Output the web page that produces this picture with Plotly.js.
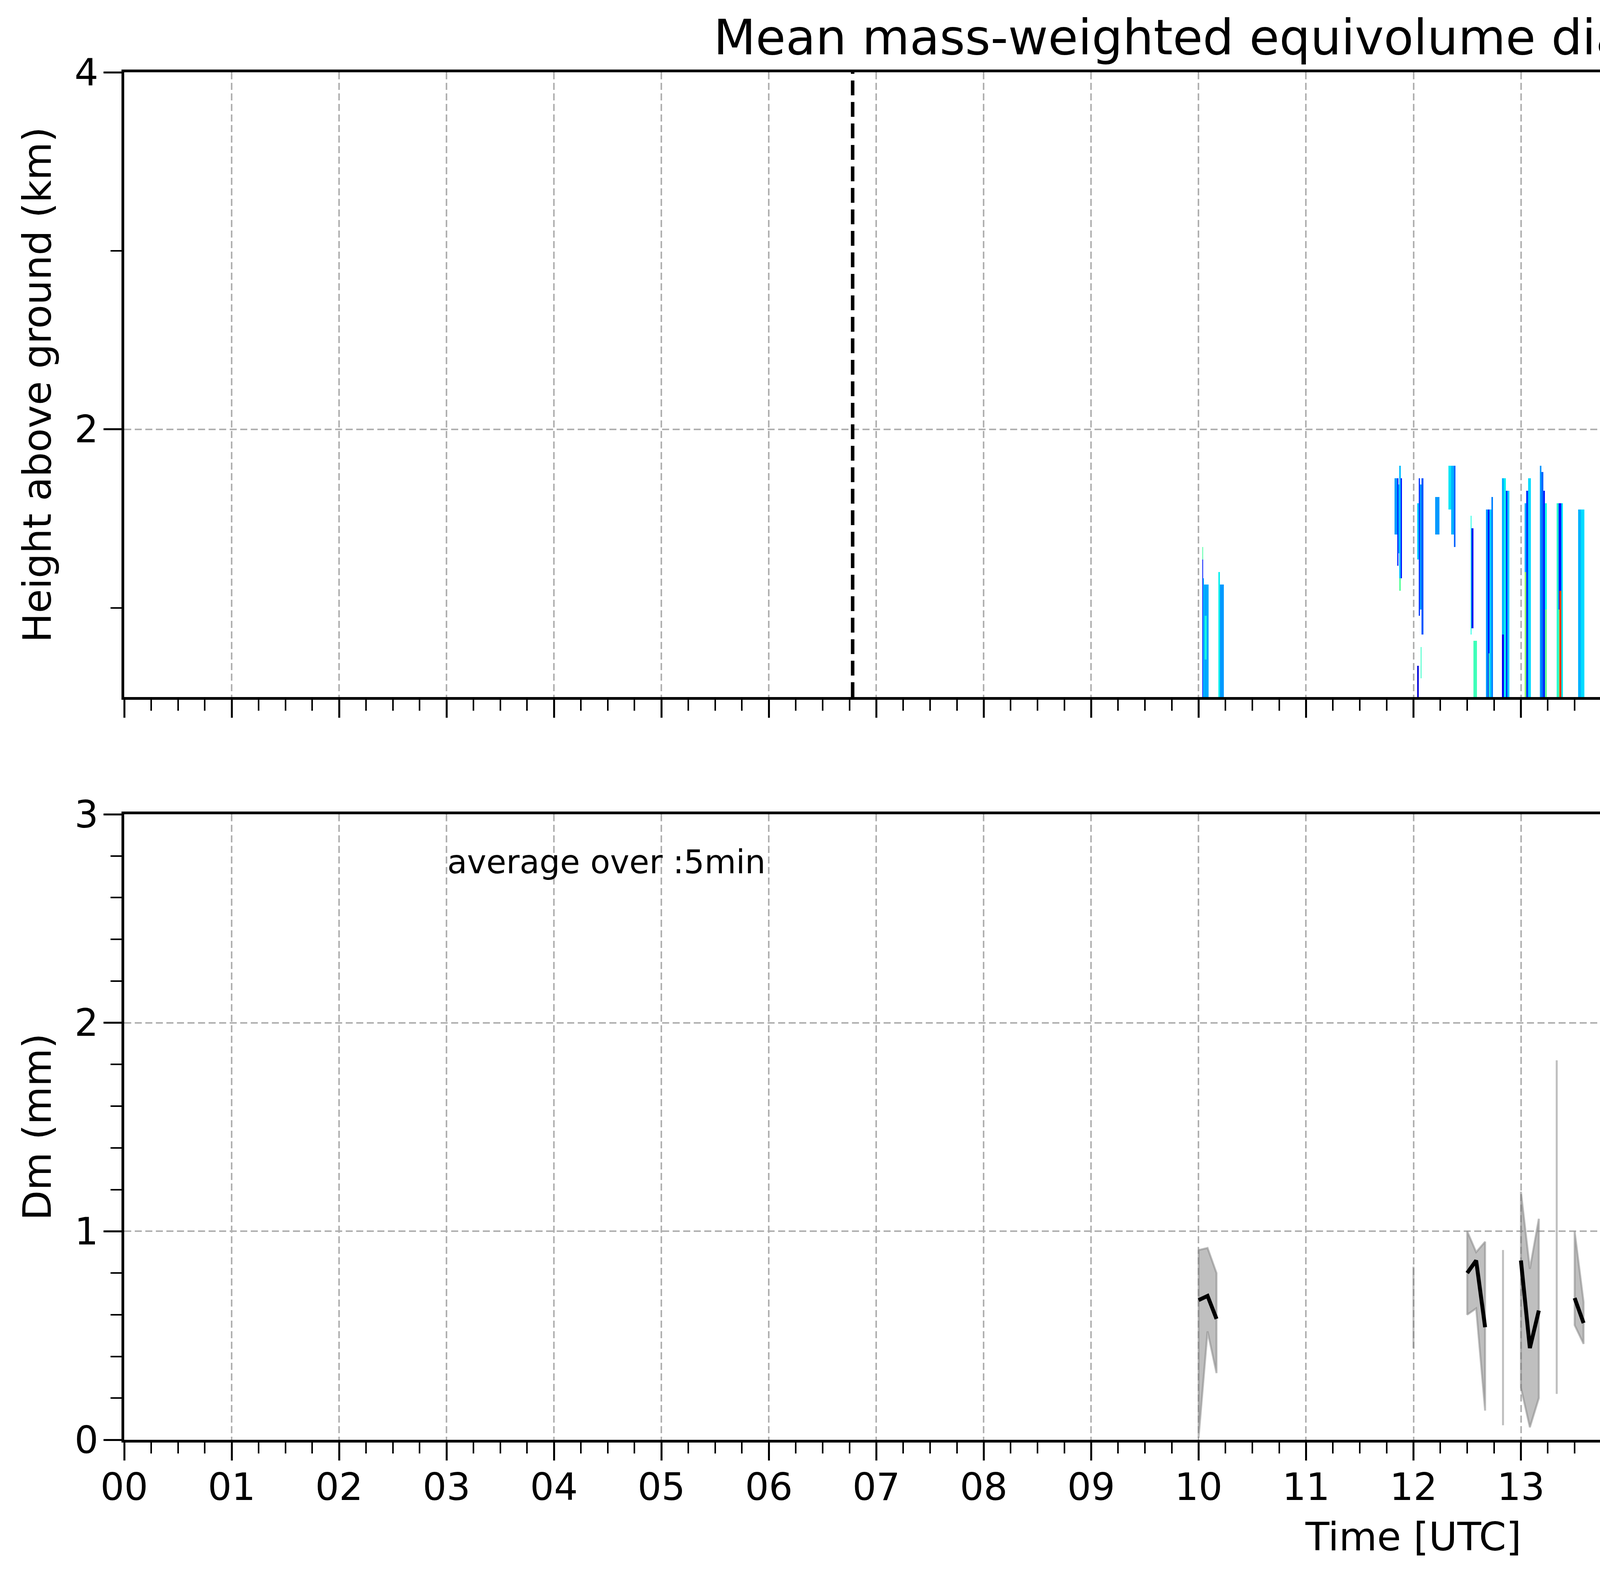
<!DOCTYPE html>
<html>
<head>
<meta charset="utf-8">
<script src="https://cdn.plot.ly/plotly-3.0.1.min.js"></script>
<style>
  html, body { margin: 0; padding: 0; background: #fff; }
  #chart { width: 7442px; height: 4031px; }
</style>
</head>
<body>
<div id="chart"></div>
<script>
// Dm strips seen in the profile panel: [start h, end h, base km, top km, Dm mm]
// rows further down paint over the ones above them
const cells10 = [
    [10.033, 10.042, 1.28, 1.35, 0.90],
    [10.033, 10.042, 0.50, 1.28, 0.30],
    [10.042, 10.050, 0.50, 1.17, 0.65],
    [10.050, 10.092, 0.50, 1.13, 0.58],
    [10.058, 10.075, 0.70, 0.95, 0.75],
    [10.183, 10.200, 0.50, 1.20, 0.72],
    [10.200, 10.233, 0.50, 1.12, 0.55]
];
const cells12 = [
    [11.829, 11.848, 1.42, 1.74, 0.55],
    [11.848, 11.858, 1.24, 1.71, 0.32],
    [11.858, 11.868, 1.30, 1.68, 0.60],
    [11.868, 11.880, 1.10, 1.78, 0.62],
    [11.880, 11.891, 1.15, 1.72, 0.28],
    [11.868, 11.880, 1.10, 1.17, 0.92],
    [12.031, 12.049, 1.28, 1.60, 0.65],
    [12.049, 12.061, 0.96, 1.71, 0.35],
    [12.061, 12.073, 1.00, 1.68, 0.55],
    [12.073, 12.092, 0.84, 1.74, 0.42],
    [12.036, 12.046, 0.50, 0.66, 0.15],
    [12.065, 12.073, 0.59, 0.77, 0.82],
    [12.196, 12.240, 1.42, 1.63, 0.55],
    [12.329, 12.348, 1.56, 1.78, 0.70],
    [12.348, 12.375, 1.42, 1.78, 0.60],
    [12.375, 12.390, 1.35, 1.81, 0.45]
];
const cells13 = [
    [12.534, 12.545, 0.84, 1.53, 0.75],
    [12.545, 12.556, 0.90, 1.45, 0.20],
    [12.556, 12.591, 0.50, 0.81, 0.85],
    [12.679, 12.695, 0.50, 1.56, 0.55],
    [12.695, 12.710, 0.50, 1.54, 0.30],
    [12.710, 12.726, 0.50, 1.56, 0.65],
    [12.726, 12.742, 0.50, 1.63, 0.50],
    [12.700, 12.712, 0.50, 0.75, 0.88],
    [12.829, 12.845, 0.50, 1.74, 0.60],
    [12.845, 12.860, 0.50, 1.71, 0.72],
    [12.860, 12.875, 0.50, 1.67, 0.35],
    [12.875, 12.891, 0.50, 1.67, 0.65],
    [12.829, 12.845, 0.50, 0.85, 0.20],
    [13.034, 13.049, 0.50, 1.60, 0.60],
    [13.034, 13.049, 0.50, 1.20, 1.05],
    [13.049, 13.070, 0.50, 1.64, 0.35],
    [13.070, 13.091, 0.50, 1.71, 0.68],
    [13.179, 13.195, 0.50, 1.78, 0.55],
    [13.195, 13.210, 0.50, 1.76, 0.45],
    [13.210, 13.225, 0.50, 1.65, 0.30],
    [13.225, 13.240, 0.50, 1.60, 0.75],
    [13.225, 13.240, 0.50, 1.00, 0.95],
    [13.332, 13.350, 0.50, 1.60, 0.80],
    [13.350, 13.375, 0.50, 1.60, 0.30],
    [13.350, 13.362, 0.50, 1.00, 0.95],
    [13.362, 13.372, 0.50, 1.10, 1.70],
    [13.375, 13.391, 0.50, 1.60, 0.70],
    [13.532, 13.555, 0.50, 1.56, 0.60],
    [13.555, 13.588, 0.50, 1.56, 0.68]
];
const cells14 = [
    [13.829, 13.845, 0.50, 1.70, 0.55],
    [13.845, 13.860, 0.50, 1.74, 0.30],
    [13.860, 13.892, 0.50, 1.74, 0.62],
    [14.031, 14.045, 1.45, 1.53, 0.70],
    [14.031, 14.045, 0.50, 1.38, 0.35],
    [14.045, 14.060, 0.95, 1.20, 0.65],
    [14.181, 14.190, 0.50, 1.38, 0.55],
    [14.181, 14.190, 0.73, 0.84, 1.70],
    [14.181, 14.190, 0.50, 0.60, 1.20],
    [14.233, 14.242, 1.10, 1.17, 0.45],
    [14.329, 14.348, 0.50, 1.16, 0.20],
    [14.531, 14.545, 0.50, 1.56, 0.70],
    [14.545, 14.560, 0.50, 1.52, 0.35],
    [14.560, 14.575, 0.50, 1.56, 0.15],
    [14.575, 14.589, 0.50, 1.56, 0.60],
    [14.675, 14.684, 1.35, 1.56, 0.70],
    [14.725, 14.734, 1.24, 1.56, 0.60],
    [14.734, 14.743, 1.45, 1.56, 0.90],
    [14.833, 14.850, 0.88, 1.56, 0.80],
    [14.850, 14.867, 0.95, 1.56, 0.50],
    [14.867, 14.883, 0.90, 1.50, 0.30],
    [14.833, 14.891, 0.50, 0.81, 0.60],
    [14.858, 14.867, 0.50, 0.81, 0.20]
];
const cells15 = [
    [15.182, 15.200, 0.91, 1.60, 0.45],
    [15.200, 15.217, 1.05, 1.60, 0.30],
    [15.217, 15.234, 1.30, 1.60, 0.60],
    [15.182, 15.192, 1.50, 1.60, 0.95],
    [15.363, 15.380, 1.16, 1.60, 0.75],
    [15.532, 15.545, 0.50, 1.60, 0.55],
    [15.545, 15.560, 0.50, 1.60, 0.30],
    [15.560, 15.586, 0.50, 1.55, 0.60],
    [15.532, 15.545, 0.50, 0.80, 0.80],
    [15.686, 15.700, 0.88, 1.60, 0.40],
    [15.700, 15.715, 1.00, 1.60, 0.25],
    [15.715, 15.744, 1.30, 1.60, 0.35],
    [15.836, 15.855, 0.88, 1.60, 0.60],
    [16.071, 16.090, 0.50, 1.27, 0.55],
    [16.179, 16.195, 0.50, 1.53, 0.40],
    [16.195, 16.215, 0.50, 1.53, 0.65],
    [16.215, 16.244, 0.50, 1.53, 0.70],
    [16.195, 16.244, 0.50, 1.00, 0.95],
    [16.329, 16.345, 0.50, 1.53, 0.45],
    [16.345, 16.365, 0.50, 1.53, 0.30],
    [16.365, 16.390, 0.50, 1.53, 0.68],
    [16.329, 16.345, 0.50, 0.95, 0.85],
    [17.692, 17.700, 1.17, 1.40, 0.45],
    [17.700, 17.717, 1.33, 1.40, 0.60],
    [17.717, 17.733, 1.35, 1.45, 0.70],
    [17.825, 17.842, 1.40, 1.46, 0.65]
];
const cells21 = [
    [20.208, 20.225, 0.99, 1.38, 0.50],
    [20.208, 20.225, 0.50, 0.99, 1.05],
    [20.225, 20.239, 0.50, 1.38, 0.65],
    [20.527, 20.542, 1.02, 1.20, 0.40],
    [20.527, 20.536, 1.02, 1.06, 0.10],
    [20.525, 20.534, 0.50, 0.73, 0.90],
    [20.680, 20.700, 0.50, 1.42, 0.55],
    [20.700, 20.720, 0.50, 1.42, 0.20],
    [20.720, 20.744, 0.50, 1.49, 0.65],
    [20.680, 20.720, 0.50, 0.95, 0.95],
    [20.825, 20.835, 1.24, 1.63, 0.70],
    [20.858, 20.875, 1.24, 1.63, 0.45],
    [20.875, 20.890, 1.35, 1.63, 0.55],
    [21.032, 21.045, 0.91, 1.63, 0.50],
    [21.045, 21.060, 1.00, 1.50, 0.30],
    [21.060, 21.075, 1.05, 1.45, 0.70],
    [21.080, 21.089, 1.35, 1.63, 0.75],
    [21.178, 21.195, 0.50, 1.30, 0.15],
    [21.195, 21.215, 0.50, 1.49, 0.35],
    [21.215, 21.242, 0.50, 1.60, 0.55],
    [21.325, 21.334, 1.17, 1.60, 0.65],
    [21.535, 21.550, 0.50, 1.38, 0.75],
    [21.550, 21.570, 0.50, 1.40, 0.40],
    [21.570, 21.586, 0.50, 1.42, 0.65],
    [21.535, 21.550, 0.50, 0.85, 0.95],
    [21.680, 21.700, 0.50, 1.45, 0.60],
    [21.700, 21.720, 0.50, 1.45, 0.15],
    [21.680, 21.720, 0.50, 0.99, 1.15],
    [21.690, 21.705, 0.50, 0.75, 1.30],
    [21.720, 21.739, 0.50, 1.45, 0.70],
    [21.836, 21.850, 0.50, 1.38, 0.60],
    [21.850, 21.870, 0.50, 1.38, 0.30],
    [21.870, 21.887, 0.50, 1.45, 0.70],
    [21.836, 21.845, 0.50, 0.90, 1.10],
    [21.845, 21.870, 0.50, 0.92, 1.55]
];
const cells23 = [
    [22.568, 22.585, 0.50, 1.53, 0.55],
    [22.683, 22.700, 0.50, 1.45, 0.75],
    [22.700, 22.720, 0.50, 1.53, 0.35],
    [22.720, 22.747, 0.50, 1.60, 0.70],
    [22.683, 22.710, 0.50, 0.81, 1.00],
    [22.831, 22.842, 0.50, 1.99, 0.65],
    [22.842, 22.870, 0.50, 1.49, 0.55],
    [22.842, 22.855, 1.49, 1.78, 0.75],
    [22.870, 22.895, 0.50, 1.49, 0.62],
    [23.027, 23.045, 0.50, 1.31, 0.80],
    [23.045, 23.060, 0.50, 1.31, 0.50],
    [23.060, 23.091, 0.50, 1.24, 0.75],
    [23.027, 23.060, 0.50, 0.95, 1.45],
    [23.035, 23.050, 0.50, 0.85, 1.60],
    [23.180, 23.200, 0.50, 1.35, 0.45],
    [23.200, 23.220, 0.50, 1.35, 0.25],
    [23.220, 23.244, 0.50, 1.35, 0.65],
    [23.333, 23.350, 0.50, 1.27, 0.30],
    [23.350, 23.365, 0.50, 1.27, 0.55],
    [23.365, 23.392, 0.50, 1.24, 0.75],
    [23.333, 23.392, 0.50, 0.85, 0.95],
    [23.538, 23.555, 0.50, 1.27, 0.85],
    [23.555, 23.570, 0.50, 1.31, 0.35],
    [23.570, 23.588, 0.50, 1.24, 0.70],
    [23.678, 23.700, 0.50, 1.38, 0.75],
    [23.700, 23.720, 0.50, 1.38, 0.30],
    [23.720, 23.742, 0.50, 1.38, 0.80],
    [23.678, 23.742, 0.50, 1.00, 1.05],
    [23.826, 23.845, 0.50, 1.31, 0.85],
    [23.845, 23.865, 0.50, 1.31, 0.75],
    [23.865, 23.882, 0.50, 1.31, 0.35],
    [23.826, 23.845, 0.50, 0.82, 1.45]
];

// 5-min mean Dm at ground with its spread (mm), time in hours
const dmTime = [10.0000, 10.0833, 10.1667, 12.0000, 12.5000, 12.5833, 12.6667, 12.8333,
    13.0000, 13.0833, 13.1667, 13.3333, 13.5000, 13.5833, 13.8333, 14.0000, 14.1667,
    14.3333, 14.5000, 14.5833, 14.8333, 15.5000, 15.5833, 16.0833, 16.1667, 16.3333,
    20.1667, 20.6667, 21.1667, 21.5000, 21.5833, 21.6667, 21.8333, 22.5833, 22.6667,
    22.8333, 23.0000, 23.0833, 23.1667, 23.3333, 23.5000, 23.5833, 23.6667, 23.8333];
const dmMean = [0.67, 0.69, 0.58, 0.64, 0.80, 0.86, 0.54, 0.50,
    0.86, 0.44, 0.62, 0.90, 0.68, 0.56, 0.62, 0.57, 1.18,
    0.62, 0.53, 0.61, 0.56, 0.55, 0.60, 0.54, 0.85, 0.66,
    1.08, 0.64, 0.53, 0.75, 0.68, 1.13, 1.28, 0.36, 0.74,
    0.55, 1.43, 1.04, 0.75, 0.88, 0.90, 0.96, 0.92, 1.11];
const dmLow = [0.01, 0.52, 0.32, 0.44, 0.60, 0.63, 0.14, 0.07,
    0.25, 0.06, 0.20, 0.22, 0.55, 0.46, 0.39, 0.25, 0.97,
    0.25, 0.14, 0.36, 0.29, 0.07, 0.05, 0.36, 0.23, 0.22,
    0.80, 0.24, 0.25, 0.17, 0.25, 0.08, 0.66, 0.09, 0.15,
    0.22, 0.94, 0.86, 0.19, 0.37, 0.33, 0.46, 0.62, 0.52];
const dmHigh = [0.91, 0.92, 0.80, 0.83, 1.00, 0.90, 0.95, 0.91,
    1.19, 0.82, 1.06, 1.82, 1.00, 0.66, 0.91, 0.89, 1.38,
    0.99, 0.84, 0.86, 0.83, 0.91, 0.91, 0.77, 1.11, 1.11,
    1.35, 1.05, 0.81, 1.15, 0.85, 1.33, 1.91, 0.71, 1.80,
    0.89, 1.69, 1.16, 1.25, 1.40, 1.08, 0.98, 1.39, 1.71];

const hourTicks = [0, 1, 2, 3, 4, 5, 6, 7, 8, 9, 10, 11, 12, 13, 14, 15, 16, 17, 18, 19, 20, 21, 22, 23];
const hourLabels = ['00', '01', '02', '03', '04', '05', '06', '07', '08', '09', '10', '11',
    '12', '13', '14', '15', '16', '17', '18', '19', '20', '21', '22', '23'];
const sunLines = [6.78, 15.334];   // black dashed markers in the profile panel
const noDataFrom = 23.885;         // grey band at the end of the day

// matplotlib "jet"
const jet = [
    [0.000, 'rgb(0,0,128)'], [0.110, 'rgb(0,0,255)'], [0.125, 'rgb(0,0,255)'],
    [0.340, 'rgb(0,219,255)'], [0.350, 'rgb(0,230,247)'], [0.375, 'rgb(21,255,226)'],
    [0.640, 'rgb(239,255,8)'], [0.650, 'rgb(247,245,0)'], [0.660, 'rgb(255,236,0)'],
    [0.890, 'rgb(255,19,0)'], [0.910, 'rgb(232,0,0)'], [1.000, 'rgb(128,0,0)']
];

// build the time/height grid (30 s x 35 m)
const colsPerHour = 120, nCol = 24 * colsPerHour;
const gateBase = 0.5, gate = 0.035, nRow = 45;
const gridX = Array.from({ length: nCol }, (_, j) => (j + 0.5) / colsPerHour);
const gridY = Array.from({ length: nRow }, (_, k) => gateBase + (k + 0.5) * gate);
const gridZ = gridY.map(() => new Array(nCol).fill(null));
[].concat(cells10, cells12, cells13, cells14, cells15, cells21, cells23).forEach(c => {
    const j0 = Math.round(c[0] * colsPerHour);
    const j1 = Math.max(j0 + 1, Math.round(c[1] * colsPerHour));
    const k0 = Math.round((c[2] - gateBase) / gate);
    const k1 = Math.max(k0 + 1, Math.round((c[3] - gateBase) / gate));
    for (let k = k0; k < Math.min(k1, nRow); k++) {
        for (let j = j0; j < j1; j++) gridZ[k][j] = c[4];
    }
});

// split the 5-min series into runs of consecutive bins
const runs = [];
dmTime.forEach((t, i) => {
    if (i > 0 && t - dmTime[i - 1] < 0.1) runs[runs.length - 1].push(i);
    else runs.push([i]);
});
const bandX = [], bandY = [], lineX = [], lineY = [];
runs.forEach(r => {
    r.forEach(i => { bandX.push(dmTime[i]); bandY.push(dmHigh[i]); });
    r.slice().reverse().forEach(i => { bandX.push(dmTime[i]); bandY.push(dmLow[i]); });
    bandX.push(dmTime[r[0]]); bandY.push(dmHigh[r[0]]);
    bandX.push(null); bandY.push(null);
    r.forEach(i => { lineX.push(dmTime[i]); lineY.push(dmMean[i]); });
    lineX.push(null); lineY.push(null);
});

const W = 7442, H = 4031;
const xDom = [318 / W, 6919 / W];
const topDom = [1 - 1784 / H, 1 - 185 / H];
const botDom = [1 - 3685 / H, 1 - 2084 / H];
const font = 'DejaVu Sans, sans-serif';

const xBase = {
    domain: xDom, range: [0, 24],
    tickmode: 'array', tickvals: hourTicks, ticktext: hourLabels,
    ticks: 'outside', ticklen: 46, tickwidth: 5, tickcolor: '#000',
    minor: { tickmode: 'linear', tick0: 0, dtick: 0.25, ticks: 'outside', ticklen: 28, tickwidth: 4, tickcolor: '#000', showgrid: false },
    showline: true, linewidth: 7, linecolor: '#000', mirror: true,
    showgrid: true, gridcolor: '#b0b0b0', gridwidth: 4, griddash: '18px,9px',
    zeroline: false, tickfont: { size: 96, color: '#000' }
};
const yBase = {
    ticks: 'outside', ticklen: 46, tickwidth: 5, tickcolor: '#000',
    showline: true, linewidth: 7, linecolor: '#000', mirror: true,
    showgrid: true, gridcolor: '#b0b0b0', gridwidth: 4, griddash: '18px,9px',
    zeroline: false, tickfont: { size: 96, color: '#000' }, ticklabelstandoff: -6
};

const traces = [
    {
        type: 'heatmap', x: gridX, y: gridY, z: gridZ, zmin: 0, zmax: 2,
        colorscale: jet, zsmooth: false, hoverinfo: 'skip', xaxis: 'x', yaxis: 'y',
        colorbar: {
            x: 6990 / W, xanchor: 'left', xpad: 0, ypad: 0,
            y: topDom[0], yanchor: 'bottom', len: topDom[1] - topDom[0], lenmode: 'fraction',
            thickness: 108, thicknessmode: 'pixels',
            outlinewidth: 5, outlinecolor: '#000',
            tickmode: 'array', tickvals: [0, 0.4, 0.8, 1.2, 1.6, 2.0], tickformat: '.1f',
            ticks: 'outside', ticklen: 24, tickwidth: 5, tickcolor: '#000',
            tickfont: { size: 79, color: '#000', family: font },
            title: { text: 'Dm (mm)', side: 'right', font: { size: 82, color: '#000', family: font } }
        }
    },
    {
        type: 'scatter', mode: 'lines', x: bandX, y: bandY, fill: 'toself',
        fillcolor: 'rgba(128,128,128,0.5)', line: { color: 'rgba(128,128,128,0.5)', width: 5 },
        hoverinfo: 'skip', xaxis: 'x2', yaxis: 'y2', showlegend: false
    },
    {
        type: 'scatter', mode: 'lines', x: lineX, y: lineY,
        line: { color: '#000', width: 10 }, connectgaps: false,
        hoverinfo: 'skip', xaxis: 'x2', yaxis: 'y2', showlegend: false
    }
];

const shapes = [{
    type: 'rect', xref: 'x', yref: 'paper', x0: noDataFrom, x1: 24, y0: topDom[0], y1: topDom[1],
    fillcolor: '#d9d9d9', line: { width: 0 }, layer: 'below'
}].concat(sunLines.map(t => ({
    type: 'line', xref: 'x', yref: 'paper', x0: t, x1: t, y0: topDom[0], y1: topDom[1],
    line: { color: '#000', width: 9, dash: '38px,17px' }, layer: 'above'
})));

const layout = {
    width: W, height: H,
    margin: { l: 0, r: 0, t: 0, b: 0 },
    paper_bgcolor: '#fff', plot_bgcolor: '#fff',
    font: { family: font, color: '#000' },
    showlegend: false,
    title: {
        text: 'Mean mass-weighted equivolume diameter on 20251206',
        x: 3618 / W, xanchor: 'center', xref: 'paper',
        y: 1 - 95 / H, yanchor: 'middle', yref: 'paper',
        font: { size: 125, color: '#000', family: font }
    },
    xaxis: Object.assign({}, xBase, { anchor: 'y', showticklabels: false }),
    yaxis: Object.assign({}, yBase, {
        domain: topDom, anchor: 'x', range: [0.5, 4], tickmode: 'linear', tick0: 0, dtick: 2,
        minor: { tickmode: 'linear', tick0: 0, dtick: 1, ticks: 'outside', ticklen: 28, tickwidth: 4, tickcolor: '#000', showgrid: false }
    }),
    xaxis2: Object.assign({}, xBase, { anchor: 'y2', ticklabelstandoff: -14 }),
    yaxis2: Object.assign({}, yBase, {
        domain: botDom, anchor: 'x2', range: [0, 3], tickmode: 'linear', tick0: 0, dtick: 1,
        minor: { tickmode: 'linear', tick0: 0, dtick: 0.2, ticks: 'outside', ticklen: 28, tickwidth: 4, tickcolor: '#000', showgrid: false }
    }),
    shapes: shapes,
    annotations: [
        {
            text: 'Height above ground (km)', textangle: -90, showarrow: false,
            xref: 'paper', yref: 'paper', x: 95 / W, y: (topDom[0] + topDom[1]) / 2,
            xanchor: 'center', yanchor: 'middle', font: { size: 100, color: '#000' }
        },
        {
            text: 'Dm (mm)', textangle: -90, showarrow: false,
            xref: 'paper', yref: 'paper', x: 95 / W, y: (botDom[0] + botDom[1]) / 2,
            xanchor: 'center', yanchor: 'middle', font: { size: 100, color: '#000' }
        },
        {
            text: 'Time [UTC]', showarrow: false,
            xref: 'paper', yref: 'paper', x: 3618 / W, y: 1 - 3933 / H,
            xanchor: 'center', yanchor: 'middle', font: { size: 100, color: '#000' }
        },
        {
            text: 'average over :5min', showarrow: false,
            xref: 'x2', yref: 'y2', x: 3.0, y: 2.77,
            xanchor: 'left', yanchor: 'middle', font: { size: 83, color: '#000' }
        }
    ]
};

Plotly.newPlot('chart', traces, layout, { displayModeBar: false, staticPlot: true });
</script>
</body>
</html>
